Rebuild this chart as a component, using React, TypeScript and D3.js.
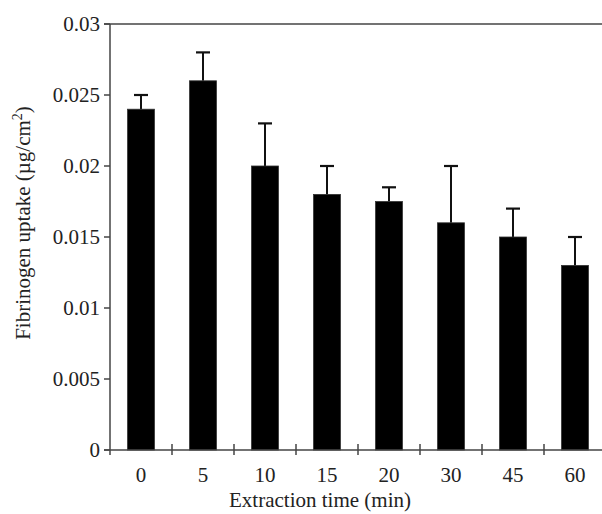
import React from "react";
import * as d3 from "d3";

const categories = ["0", "5", "10", "15", "20", "30", "45", "60"];
const values = [0.024, 0.026, 0.020, 0.018, 0.0175, 0.016, 0.015, 0.013];
const errorTops = [0.025, 0.028, 0.023, 0.020, 0.0185, 0.020, 0.017, 0.015];
const yTicks = [0, 0.005, 0.01, 0.015, 0.02, 0.025, 0.03];
const yTickLabels = ["0", "0.005", "0.01", "0.015", "0.02", "0.025", "0.03"];

const W = 602;
const H = 514;
const FONT = "'Liberation Serif', 'Times New Roman', serif";
const AXIS = "#444";

export default function App() {
  const x = d3.scaleBand<string>().domain(categories).range([110, 606]);
  const y = d3.scaleLinear().domain([0, 0.03]).range([450, 24]);
  const bw = x.bandwidth() * 0.435;
  const capW = 14;
  const boundaries = categories.slice(1).map((c) => x(c) as number);

  return (
    <svg
      width={W}
      height={H}
      style={{ position: "absolute", left: 0, top: 0, background: "#fff" }}
      fontFamily={FONT}
    >
      {categories.map((c, i) => {
        const cx = (x(c) as number) + x.bandwidth() / 2;
        return (
          <g key={c}>
            <line x1={cx} x2={cx} y1={y(values[i])} y2={y(errorTops[i])} stroke="#111" strokeWidth={2} />
            <line x1={cx - capW / 2} x2={cx + capW / 2} y1={y(errorTops[i])} y2={y(errorTops[i])} stroke="#111" strokeWidth={2.2} />
            <rect
              x={cx - bw / 2}
              y={y(values[i])}
              width={bw}
              height={y(0) - y(values[i])}
              fill="#000"
              stroke="#333"
              strokeWidth={0.8}
            />
          </g>
        );
      })}
      <line x1={110} x2={110} y1={24} y2={455} stroke={AXIS} strokeWidth={1.5} />
      <line x1={104} x2={W} y1={450} y2={450} stroke={AXIS} strokeWidth={1.5} />
      <line x1={104} x2={W} y1={24} y2={24} stroke={AXIS} strokeWidth={1.5} />
      {yTicks.map((t, i) => (
        <g key={t}>
          <line x1={104} x2={110} y1={y(t)} y2={y(t)} stroke={AXIS} strokeWidth={1.5} />
          <text x={100} y={y(t)} dy="0.33em" textAnchor="end" fontSize={21} fill="#222">
            {yTickLabels[i]}
          </text>
        </g>
      ))}
      {boundaries.map((b, i) => (
        <line key={i} x1={b} x2={b} y1={444} y2={455} stroke={AXIS} strokeWidth={1.5} />
      ))}
      {categories.map((c) => (
        <text
          key={c}
          x={(x(c) as number) + x.bandwidth() / 2}
          y={482}
          textAnchor="middle"
          fontSize={21}
          fill="#222"
        >
          {c}
        </text>
      ))}
      <text x={320} y={507} textAnchor="middle" fontSize={21} fill="#222">
        Extraction time (min)
      </text>
      <text
        transform={`translate(30,223) rotate(-90)`}
        textAnchor="middle"
        fontSize={21}
        fill="#222"
      >
        Fibrinogen uptake (µg/cm<tspan dy="-8" fontSize={14}>2</tspan><tspan dy="8">)</tspan>
      </text>
    </svg>
  );
}
